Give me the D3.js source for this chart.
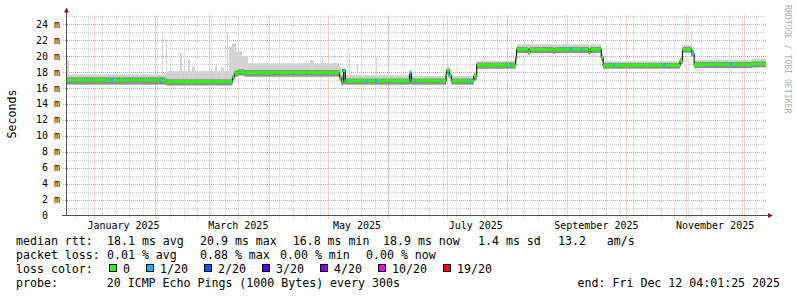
<!DOCTYPE html>
<html>
<head>
<meta charset="utf-8">
<script src="https://cdn.jsdelivr.net/npm/d3@7"></script>
<style>
  body { margin: 0; background: #fff; }
  svg { display: block; font-family: "DejaVu Sans Mono", monospace; }
  text { white-space: pre; }
</style>
</head>
<body>
<svg id="chart" width="797" height="297"></svg>
<script>
// median rtt steps (ms) and the smoke around it, one entry per change
const stepDates = [
    `2024-12-17T23:00`, `2025-02-07T00:00`, `2025-03-13T00:00`, `2025-03-14T00:00`, `2025-03-16T00:00`, `2025-03-19T00:00`,
    `2025-05-07T00:00`, `2025-05-08T00:00`, `2025-05-09T00:00`, `2025-05-10T00:00`,
    `2025-06-12T00:00`, `2025-06-13T00:00`,
    `2025-06-30T18:00`, `2025-07-01T00:00`, `2025-07-02T12:00`, `2025-07-03T12:00`,
    `2025-07-15T00:00`, `2025-07-16T12:00`,
    `2025-08-05T12:00`, `2025-08-06T00:00`,
    `2025-08-12T00:00`, `2025-08-13T00:00`, `2025-08-25T00:00`, `2025-08-26T00:00`, `2025-09-12T00:00`, `2025-09-13T00:00`,
    `2025-09-18T12:00`, `2025-09-19T12:00`,
    `2025-10-29T00:00`, `2025-10-30T06:00`,
    `2025-11-04T00:00`, `2025-11-05T06:00`,
    `2025-12-05T00:00`
];
const medianMs = [17.0, 16.8, 17.35, 17.85, 18.05, 17.9, 17.3, 16.75, 18.2, 16.9, 17.9, 16.9, 17.7, 18.2, 17.6, 16.9,
    17.5, 18.9, 19.8, 20.85, 20.55, 20.85, 20.7, 20.85, 20.6, 20.85, 19.8, 18.85, 19.4, 20.85, 20.3, 18.95, 19.05];
const smokeMinMs = [16.4, 16.3, 16.9, 17.4, 17.55, 17.4, 16.9, 16.3, 16.45, 16.4, 16.45, 16.4, 16.9, 17.7, 17.2, 16.4,
    16.9, 18.4, 19.3, 20.35, 20.15, 20.35, 20.25, 20.35, 20.2, 20.35, 19.3, 18.4, 18.9, 20.4, 19.9, 18.45, 18.55];
const bandLoMs = [16.45, 16.35, 17.0, 17.45, 17.6, 17.45, 17.0, 16.35, 16.5, 16.45, 16.5, 16.45, 17.0, 17.75, 17.25, 16.45,
    17.0, 18.45, 19.4, 20.4, 20.2, 20.4, 20.3, 20.4, 20.25, 20.4, 19.4, 18.45, 19.0, 20.45, 20.0, 18.5, 18.6];
const bandHiMs = [17.35, 17.1, 17.6, 18.2, 18.35, 18.25, 17.6, 17.1, 18.35, 17.2, 18.05, 17.2, 17.95, 18.45, 17.85, 17.2,
    17.8, 19.2, 20.1, 21.15, 21.0, 21.15, 21.05, 21.15, 21.0, 21.15, 20.1, 19.15, 19.7, 21.15, 20.6, 19.25, 19.35];
const smokeMaxMs = [17.7, 18.1, 18.3, 18.8, 19.0, 19.1, 18.6, 17.6, 18.5, 17.6, 18.2, 17.5, 18.3, 18.7, 18.2, 17.5,
    18.0, 19.35, 20.4, 21.5, 21.6, 21.5, 21.4, 21.5, 21.4, 21.5, 20.4, 19.35, 19.9, 21.4, 21.0, 19.5, 19.7];

// single slow pings sticking out of the smoke
const spikeDates = [`2024-12-18T00:00`, `2025-02-05T00:00`, `2025-02-07T00:00`, `2025-02-14T00:00`, `2025-02-16T00:00`,
    `2025-02-18T00:00`, `2025-02-20T00:00`, `2025-02-28T20:00`, `2025-03-04T00:00`, `2025-03-07T00:00`, `2025-03-10T00:00`,
    `2025-03-11T00:00`, `2025-03-12T12:00`, `2025-03-15T00:00`, `2025-03-18T00:00`, `2025-04-22T00:00`, `2025-04-28T00:00`,
    `2025-05-12T00:00`, `2025-05-16T00:00`, `2025-05-26T00:00`, `2025-08-14T00:00`, `2025-10-01T00:00`, `2025-11-03T20:00`];
const spikeDays = [1, 0.5, 0.5, 1, 0.8, 1, 1.5, 0.5, 1, 1.5, 0.5, 1.5, 2.5, 3, 3, 2, 0.5, 0.5, 0.5, 0.5, 0.5, 0.5, 0.5];
const spikeTopMs = [19.5, 23.0, 22.1, 20.4, 19.7, 19.6, 18.7, 25.3, 18.8, 18.6, 23.0, 21.2, 21.6, 20.6, 20.0, 19.5, 19.9,
    20.4, 19.1, 19.9, 22.1, 20.4, 23.1];

// samples with 1/20 loss
const lossDates = [`2025-01-09T00:00`, `2025-01-10T00:00`, `2025-02-04T00:00`, `2025-05-09T00:00`, `2025-05-21T00:00`,
    `2025-05-26T00:00`, `2025-06-12T00:00`, `2025-06-15T00:00`, `2025-07-02T12:00`, `2025-07-13T00:00`, `2025-08-03T00:00`,
    `2025-09-03T00:00`, `2025-09-08T00:00`, `2025-09-25T00:00`, `2025-10-21T00:00`, `2025-11-04T00:00`, `2025-11-24T00:00`];

const yTicks = [0, 2, 4, 6, 8, 10, 12, 14, 16, 18, 20, 22, 24];
const lossLabels = [`0`, `1/20`, `2/20`, `3/20`, `4/20`, `10/20`, `19/20`];
const lossColors = [`#26ff00`, `#00b8ff`, `#0059ff`, `#5e00ff`, `#7e00ff`, `#dd00ff`, `#ff0000`];

const legendRtt = [`median rtt:`, `18.1 ms avg`, `20.9 ms max`, `16.8 ms min`, `18.9 ms now`, `1.4 ms sd`, `13.2   am/s`];
const legendLoss = [`packet loss:`, `0.01 % avg`, `0.88 % max`, `0.00 % min`, `0.00 % now`];

const parseT = d3.utcParse(`%Y-%m-%dT%H:%M`);
const tStart = new Date(Date.UTC(2024, 11, 17, 23, 0, 0));
const tEnd = new Date(Date.UTC(2025, 11, 12, 4, 1, 25));

const plotLeft = 67, plotRight = 766, plotBottom = 215.5, plotTop = 15.5;

const x = d3.scaleUtc().domain([tStart, tEnd]).range([plotLeft, plotRight]);
const y = d3.scaleLinear().domain([0, 25.1]).range([plotBottom, plotTop]);
const crisp = v => Math.round(v) + 0.5;

const svg = d3.select(`#chart`);
svg.append(`rect`).attr(`width`, 797).attr(`height`, 297).attr(`fill`, `#fff`);

// grid
const grid = svg.append(`g`).attr(`stroke-width`, 1).attr(`stroke-dasharray`, `1,1`).attr(`fill`, `none`);
d3.range(1, 26).filter(v => v % 2 === 1).forEach(v => {
    grid.append(`line`).attr(`x1`, 64).attr(`x2`, plotRight).attr(`y1`, crisp(y(v))).attr(`y2`, crisp(y(v)))
        .attr(`stroke`, `#cccccc`);
});
d3.utcSunday.range(tStart, tEnd).forEach(t => {
    grid.append(`line`).attr(`x1`, crisp(x(t))).attr(`x2`, crisp(x(t))).attr(`y1`, plotTop).attr(`y2`, plotBottom + 3)
        .attr(`stroke`, `#cccccc`);
});
yTicks.filter(v => v > 0).forEach(v => {
    grid.append(`line`).attr(`x1`, 63).attr(`x2`, plotRight).attr(`y1`, crisp(y(v))).attr(`y2`, crisp(y(v)))
        .attr(`stroke`, `#e89a9a`);
});
d3.utcMonth.range(d3.utcMonth.ceil(tStart), tEnd).forEach(t => {
    grid.append(`line`).attr(`x1`, crisp(x(t))).attr(`x2`, crisp(x(t))).attr(`y1`, plotTop).attr(`y2`, plotBottom + 3)
        .attr(`stroke`, `#e89a9a`);
});

// series
const series = stepDates.map((d, i) => ({
    t: parseT(d), med: medianMs[i], lo: smokeMinMs[i], bLo: bandLoMs[i], bHi: bandHiMs[i], hi: smokeMaxMs[i]
}));
series.push({ ...series[series.length - 1], t: tEnd });
const at = t => series[Math.max(0, d3.bisector(d => d.t).right(series, t) - 1)];

const smoke = svg.append(`g`);
smoke.append(`path`).datum(series).attr(`fill`, `#d0d0d0`)
    .attr(`d`, d3.area().curve(d3.curveStepAfter).x(d => x(d.t)).y0(d => y(d.lo)).y1(d => y(d.hi)));

spikeDates.forEach((d, i) => {
    const t0 = parseT(d);
    const t1 = new Date(+t0 + spikeDays[i] * 864e5);
    const x0 = Math.round(x(t0));
    smoke.append(`rect`)
        .attr(`x`, x0).attr(`width`, Math.max(1, Math.round(x(t1)) - x0))
        .attr(`y`, y(spikeTopMs[i])).attr(`height`, y(at(t0).bHi) - y(spikeTopMs[i]))
        .attr(`fill`, `#d4d4d4`);
});

smoke.append(`path`).datum(series).attr(`fill`, `#8e8e8e`)
    .attr(`d`, d3.area().curve(d3.curveStepAfter).x(d => x(d.t)).y0(d => y(d.bLo)).y1(d => y(d.bHi)));

svg.append(`path`).datum(series).attr(`fill`, `none`).attr(`stroke`, `#202020`).attr(`stroke-width`, 1.2)
    .attr(`d`, d3.line().curve(d3.curveStepAfter).x(d => x(d.t)).y(d => y(d.med)));

svg.append(`path`).datum(series).attr(`fill`, lossColors[0])
    .attr(`d`, d3.area().curve(d3.curveStepAfter).x(d => x(d.t)).y0(d => y(d.med) + 1.5).y1(d => y(d.med) - 1.5));

lossDates.forEach(d => {
    const t = parseT(d);
    svg.append(`rect`).attr(`x`, Math.round(x(t)) - 1).attr(`width`, 2)
        .attr(`y`, y(at(t).med) - 1.5).attr(`height`, 3).attr(`fill`, lossColors[1]);
});

// axes
const axis = svg.append(`g`);
axis.append(`line`).attr(`x1`, 66.5).attr(`x2`, 66.5).attr(`y1`, 11).attr(`y2`, plotBottom + 0.5)
    .attr(`stroke`, `#505050`);
axis.append(`line`).attr(`x1`, 62).attr(`x2`, 769).attr(`y1`, plotBottom).attr(`y2`, plotBottom)
    .attr(`stroke`, `#505050`);
axis.append(`path`).attr(`d`, `M64,12.5L66.5,7.5L69,12.5Z`).attr(`fill`, `#8b1c1c`);
axis.append(`path`).attr(`d`, `M768,213L773,215.5L768,218Z`).attr(`fill`, `#8b1c1c`);

axis.selectAll(`.ylab`).data(yTicks).enter().append(`text`)
    .attr(`x`, 60).attr(`y`, d => y(d) + 3.5)
    .attr(`text-anchor`, `end`).attr(`font-size`, `10px`)
    .text(d => d === 0 ? `0  ` : `${d} m`);

axis.selectAll(`.xlab`).data(d3.utcMonth.every(2).range(parseT(`2025-01-01T00:00`), tEnd)).enter().append(`text`)
    .attr(`x`, d => x(new Date(+d + 15 * 864e5))).attr(`y`, 228.5)
    .attr(`text-anchor`, `middle`).attr(`font-size`, `10px`)
    .text(d3.utcFormat(`%B %Y`));

svg.append(`text`).attr(`transform`, `translate(15.5,114) rotate(-90)`)
    .attr(`text-anchor`, `middle`).attr(`font-size`, `11.6px`).text(`Seconds`);

svg.append(`text`).attr(`transform`, `translate(785,5) rotate(90)`)
    .attr(`font-size`, `8.2px`).attr(`fill`, `#b0b0b0`).text(`RRDTOOL / TOBI OETIKER`);

// legend
const legend = svg.append(`g`).attr(`font-size`, `11.6px`);
const rttX = [16, 107, 200, 292.7, 383, 478, 558];
legendRtt.forEach((s, i) => legend.append(`text`).attr(`x`, rttX[i]).attr(`y`, 245).text(s));
const lossX = [16, 107, 200, 280, 366];
legendLoss.forEach((s, i) => legend.append(`text`).attr(`x`, lossX[i]).attr(`y`, 259).text(s));

legend.append(`text`).attr(`x`, 16).attr(`y`, 272.5).text(`loss color:`);
let cx = 109;
lossLabels.forEach((s, i) => {
    legend.append(`rect`).attr(`x`, cx + 0.5).attr(`y`, 264.5).attr(`width`, 7).attr(`height`, 7)
        .attr(`fill`, lossColors[i]).attr(`stroke`, `#000`);
    legend.append(`text`).attr(`x`, cx + 14).attr(`y`, 272.5).text(s);
    cx += 14 + s.length * 7 + 16;
});

legend.append(`text`).attr(`x`, 16).attr(`y`, 287).text(`probe:       20 ICMP Echo Pings (1000 Bytes) every 300s`);
legend.append(`text`).attr(`x`, 780).attr(`y`, 287).attr(`text-anchor`, `end`).text(`end: Fri Dec 12 04:01:25 2025`);
</script>
</body>
</html>
